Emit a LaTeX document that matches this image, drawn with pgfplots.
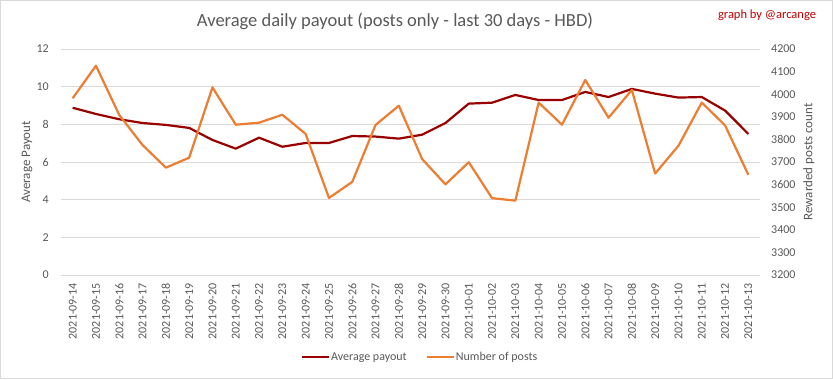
\documentclass[border=0pt]{standalone}
\usepackage{fontspec}
\setmainfont{Carlito}
\usepackage{pgfplots}
\pgfplotsset{compat=1.18}
\definecolor{txt}{HTML}{595959}
\definecolor{gridc}{HTML}{D9D9D9}
\definecolor{dred}{HTML}{990000}
\definecolor{orng}{HTML}{ED7D31}
\definecolor{credit}{HTML}{C00000}
\pgfplotstableread{
x avg posts
0 8.88 3982
1 8.55 4126
2 8.27 3908
3 8.07 3775
4 7.97 3675
5 7.81 3719
6 7.17 4030
7 6.71 3865
8 7.29 3874
9 6.81 3909
10 7.01 3824
11 7.01 3541
12 7.38 3612
13 7.35 3864
14 7.24 3949
15 7.45 3713
16 8.07 3601
17 9.10 3699
18 9.15 3540
19 9.56 3529
20 9.29 3963
21 9.29 3865
22 9.72 4063
23 9.45 3896
24 9.88 4019
25 9.63 3649
26 9.42 3772
27 9.45 3963
28 8.73 3862
29 7.49 3643
}\datatable
\pgfplotsset{
  common/.style={
    at={(61bp,104bp)}, anchor=south west,
    width=699bp, height=226bp, scale only axis,
    xmin=-0.5, xmax=29.5,
    axis line style={draw=none},
    major tick length=0pt,
    tick style={draw=none},
    ticklabel style={font=\fontsize{12bp}{14bp}\selectfont, text=txt, inner sep=0pt},
    label style={font=\fontsize{13bp}{15bp}\selectfont, text=txt},
    /pgf/number format/assume math mode=true,
    /pgf/number format/1000 sep={},
  },
}
\begin{document}
\begin{tikzpicture}[x=1bp,y=1bp]
\path[use as bounding box] (0,0) rectangle (833,379);
\fill[white] (0,0) rectangle (833,379);
\draw[gridc, line width=1bp] (0.5,0.5) rectangle (832.5,378.5);
\node[font=\fontsize{18.5bp}{22bp}\selectfont, text=txt] at (395,358) {Average daily payout (posts only - last 30 days - HBD)};
\node[font=\fontsize{12.5bp}{15bp}\selectfont, text=credit] at (767,364) {graph by @arcange};
\begin{axis}[common,
  ymin=0, ymax=12, ytick={0,2,...,12},
  ymajorgrids, grid style={gridc, line width=0.75bp},
  xtick={0,...,29},
  xticklabels={2021-09-14,2021-09-15,2021-09-16,2021-09-17,2021-09-18,2021-09-19,2021-09-20,2021-09-21,2021-09-22,2021-09-23,2021-09-24,2021-09-25,2021-09-26,2021-09-27,2021-09-28,2021-09-29,2021-09-30,2021-10-01,2021-10-02,2021-10-03,2021-10-04,2021-10-05,2021-10-06,2021-10-07,2021-10-08,2021-10-09,2021-10-10,2021-10-11,2021-10-12,2021-10-13},
  xticklabel style={rotate=90, anchor=east},
  xticklabel shift=8bp,
  yticklabel style={anchor=east},
  yticklabel shift=12bp,
  ylabel={Average Payout},
  ylabel style={at={(axis description cs:-0.0486,0.5)}, anchor=center},
]
\addplot[dred, line width=2.2bp, line join=round, no marks] table[x=x, y=avg] {\datatable};
\end{axis}
\begin{axis}[common,
  ymin=3200, ymax=4200, ytick={3200,3300,...,4200},
  axis y line*=right,
  xtick=\empty,
  yticklabel style={anchor=west},
  yticklabel shift=11bp,
  ylabel={Rewarded posts count},
  ylabel style={at={(axis description cs:1.070,0.5)}, anchor=center},
  legend style={at={(axis description cs:0.513,-0.363)}, anchor=center, draw=none, fill=none,
    font=\fontsize{12bp}{14bp}\selectfont, text=txt, inner sep=0pt,
    nodes={inner sep=1bp}},
  legend columns=2,
  /tikz/every even column/.append style={column sep=18bp},
  legend image code/.code={\draw[#1, line width=2.2bp] (0bp,0bp) -- (27bp,0bp);},
]
\addlegendimage{dred}
\addlegendentry{Average payout}
\addplot[orng, line width=2.2bp, line join=round, no marks] table[x=x, y=posts] {\datatable};
\addlegendentry{Number of posts}
\end{axis}
\end{tikzpicture}
\end{document}
